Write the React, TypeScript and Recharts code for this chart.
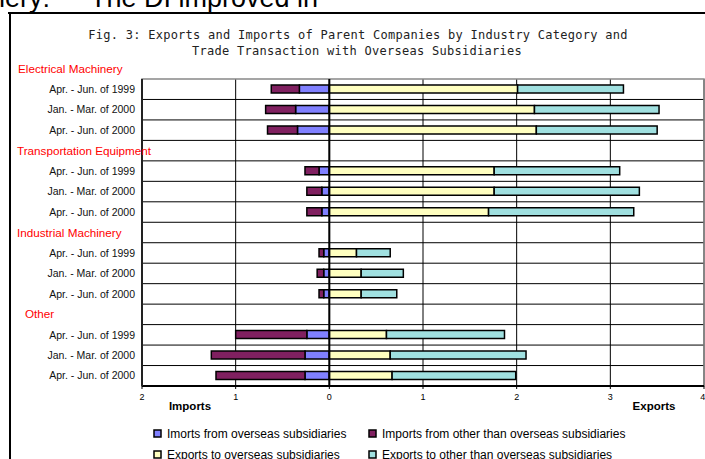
import React from "react";
import {
  BarChart,
  Bar,
  XAxis,
  YAxis,
  CartesianGrid,
  ReferenceLine,
  ReferenceArea,
} from "recharts";

const periods = ["Apr. - Jun. of 1999", "Jan. - Mar. of 2000", "Apr. - Jun. of 2000"];
const groups = ["Electrical Machinery", "Transportation Equipment", "Industrial Machinery", "Other"];

// values per group, per period (imports shown on the left side)
const importsOverseas = [
  [0.32, 0.36, 0.34],
  [0.11, 0.08, 0.08],
  [0.06, 0.06, 0.06],
  [0.24, 0.26, 0.26],
];
const importsOther = [
  [0.3, 0.32, 0.32],
  [0.15, 0.16, 0.16],
  [0.05, 0.07, 0.05],
  [0.76, 1.0, 0.95],
];
const exportsOverseas = [
  [2.01, 2.19, 2.21],
  [1.76, 1.76, 1.7],
  [0.29, 0.34, 0.34],
  [0.61, 0.65, 0.67],
];
const exportsOther = [
  [1.13, 1.33, 1.29],
  [1.34, 1.55, 1.55],
  [0.36, 0.45, 0.38],
  [1.26, 1.45, 1.32],
];
const xTicks = [-2, -1, 0, 1, 2, 3, 4];

const seriesNames = [
  "Imorts from overseas subsidiaries",
  "Imports from other than overseas subsidiaries",
  "Exports to overseas subsidiaries",
  "Exports to other than overseas subsidiaries",
];
const colors = ["#8080ff", "#802060", "#ffffc0", "#a0e0e0"];

type Row = {
  key: string;
  label: string;
  header: boolean;
  impOverseas: number | null;
  impOther: number | null;
  expOverseas: number | null;
  expOther: number | null;
};

const rows: Row[] = [];
groups.forEach((g, gi) => {
  if (gi > 0) {
    rows.push({
      key: `h${gi}`,
      label: g,
      header: true,
      impOverseas: null,
      impOther: null,
      expOverseas: null,
      expOther: null,
    });
  }
  periods.forEach((p, pi) => {
    rows.push({
      key: `r${gi}-${pi}`,
      label: p,
      header: false,
      impOverseas: -importsOverseas[gi][pi],
      impOther: -importsOther[gi][pi],
      expOverseas: exportsOverseas[gi][pi],
      expOther: exportsOther[gi][pi],
    });
  });
});

const FONT = "'Liberation Sans', Arial, sans-serif";
const W = 705;
const H = 420;
const TOP = 79;
const PLOT_H = 307;
const ROW_H = PLOT_H / rows.length;

const YTick = (props: any) => {
  const { y, payload } = props;
  const idx = payload?.index ?? props.index;
  const row = rows[idx];
  if (!row) return null;
  return (
    <g>
      {idx === 0 && (
        <text x={18} y={y - ROW_H} dy="0.35em" fontSize={11.7} fill="#ff0000" fontFamily={FONT}>
          {groups[0]}
        </text>
      )}
      {row.header ? (
        <text x={row.label === "Other" ? 25 : 17} y={y} dy="0.35em" fontSize={11.7} fill="#ff0000" fontFamily={FONT}>
          {row.label}
        </text>
      ) : (
        <text x={135} y={y} dy="0.35em" textAnchor="end" fontSize={10.5} fill="#111" fontFamily={FONT}>
          {row.label}
        </text>
      )}
    </g>
  );
};

export default function App() {
  const keys = ["impOverseas", "impOther", "expOverseas", "expOther"];
  return (
    <div style={{ position: "absolute", left: 0, top: 0, width: W, height: 459, background: "#fff", overflow: "hidden" }}>
      <div style={{ position: "absolute", left: 0, top: 0 }}>
        <BarChart
          width={W}
          height={H}
          data={rows}
          layout="vertical"
          stackOffset="sign"
          margin={{ top: TOP, right: 1, bottom: 14, left: 0 }}
        >
          <CartesianGrid
            stroke="#000"
            strokeWidth={1}
            horizontalCoordinatesGenerator={({ offset }: any) =>
              rows.slice(1).map((_, i) => offset.top + ((i + 1) * offset.height) / rows.length)
            }
          />
          <ReferenceArea x1={-2} x2={4} fill="none" stroke="#888" strokeWidth={1.5} />
          <XAxis
            type="number"
            domain={[-2, 4]}
            ticks={xTicks}
            tickFormatter={(v: number) => String(Math.abs(v))}
            axisLine={{ stroke: "#000", strokeWidth: 2 }}
            tickLine={{ stroke: "#000" }}
            tickSize={3}
            tickMargin={5}
            height={20}
            tick={{ fontSize: 9, fill: "#000", fontFamily: FONT }}
          />
          <YAxis
            type="category"
            dataKey="key"
            width={142}
            interval={0}
            tickLine={false}
            axisLine={{ stroke: "#222", strokeWidth: 2 }}
            tick={<YTick />}
          />
          <ReferenceLine x={0} stroke="#000" strokeWidth={2} />
          {keys.map((k, i) => (
            <Bar
              key={k}
              dataKey={k}
              name={seriesNames[i]}
              stackId="s"
              fill={colors[i]}
              stroke="#000"
              strokeWidth={1.5}
              barSize={8}
              isAnimationActive={false}
            />
          ))}
        </BarChart>
      </div>
      <svg width={W} height={459} style={{ position: "absolute", left: 0, top: 0, pointerEvents: "none" }}>
        <text x={50} y={7} fontSize={27} textAnchor="end" fontFamily={FONT} fill="#000">
          Machinery:
        </text>
        <text x={90} y={7} fontSize={27} fontFamily={FONT} fill="#000">
          The DI improved in
        </text>
        <line x1={8} y1={13} x2={705} y2={13} stroke="#000" strokeWidth={2} />
        <line x1={10} y1={12} x2={10} y2={459} stroke="#000" strokeWidth={2} />
        <text x={358} y={39} fontSize={12} textAnchor="middle" letterSpacing={0.27} fontFamily="'DejaVu Sans Mono', monospace" fill="#222">
          Fig. 3: Exports and Imports of Parent Companies by Industry Category and
        </text>
        <text x={357} y={55} fontSize={12} textAnchor="middle" letterSpacing={0.27} fontFamily="'DejaVu Sans Mono', monospace" fill="#222">
          Trade Transaction with Overseas Subsidiaries
        </text>
        <text x={190} y={410} fontSize={11.5} fontWeight="bold" textAnchor="middle" fontFamily={FONT} fill="#000">
          Imports
        </text>
        <text x={654} y={410} fontSize={11.5} fontWeight="bold" textAnchor="middle" fontFamily={FONT} fill="#000">
          Exports
        </text>
        {seriesNames.map((name, i) => {
          const col = i % 2;
          const r = Math.floor(i / 2);
          const mx = col === 0 ? 154 : 369;
          const cy = r === 0 ? 434 : 455;
          return (
            <g key={name}>
              <rect x={mx} y={cy - 4} width={7} height={7} fill={colors[i]} stroke="#000" strokeWidth={1.5} />
              <text x={mx + 13} y={cy} dy="0.35em" fontSize={12} fontFamily={FONT} fill="#000">
                {name}
              </text>
            </g>
          );
        })}
      </svg>
    </div>
  );
}
